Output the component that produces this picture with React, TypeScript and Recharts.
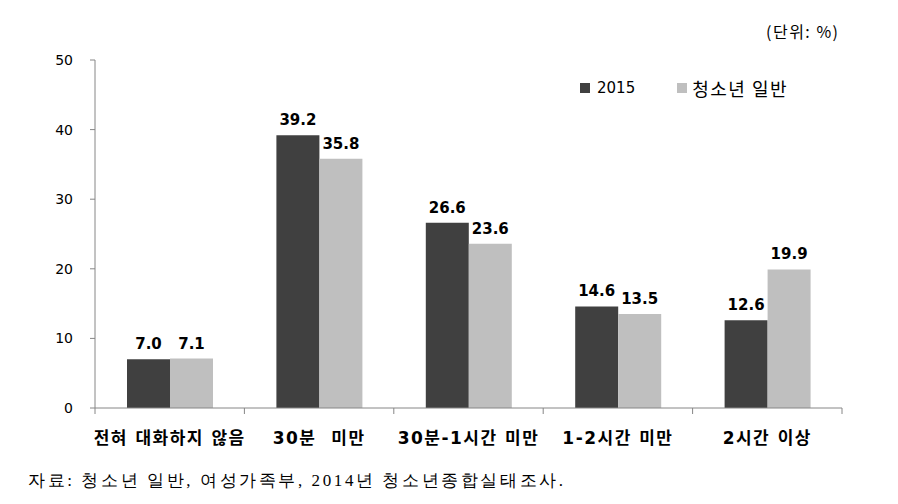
import { BarChart, Bar, XAxis, YAxis, LabelList } from 'recharts';

const categories = ['전혀 대화하지 않음', '30분  미만', '30분-1시간 미만', '1-2시간 미만', '2시간 이상'];
const values2015 = [7.0, 39.2, 26.6, 14.6, 12.6];
const valuesGeneral = [7.1, 35.8, 23.6, 13.5, 19.9];
const yTicks = [0, 10, 20, 30, 40, 50];
const seriesNames = ['2015', '청소년 일반'];

const data = categories.map((c, i) => ({ category: c, y2015: values2015[i], general: valuesGeneral[i] }));

const FONT = '"DejaVu Sans", "Noto Sans CJK KR", sans-serif';
const KFONT = '"Noto Sans CJK KR", sans-serif';
const AXIS = '#868686';
const DARK = '#404040';
const LIGHT = '#bfbfbf';
const PLOT_LEFT = 95;
const PLOT_RIGHT = 56;
const BAND = (898 - PLOT_LEFT - PLOT_RIGHT) / categories.length;

function CategoryTick(props: any) {
  const { x, y, payload, index } = props;
  const last = index === categories.length - 1;
  return (
    <g>
      <line x1={x - BAND / 2} x2={x - BAND / 2} y1={y} y2={y + 6} stroke={AXIS} />
      {last && <line x1={x + BAND / 2} x2={x + BAND / 2} y1={y} y2={y + 6} stroke={AXIS} />}
      <text x={x} y={y + 36} textAnchor="middle" fontFamily={FONT} fontWeight={700} fontSize={17} letterSpacing={1.5} fill="#000" style={{ whiteSpace: 'pre' }}>
        {payload.value}
      </text>
    </g>
  );
}

const labelStyle = { fontFamily: FONT, fontWeight: 700, fontSize: 15, fill: '#000' };

export default function App() {
  return (
    <div style={{ position: 'absolute', left: 0, top: 0, width: 898, height: 504, background: '#fff' }}>
      <div style={{ position: 'absolute', left: 766, top: 19, fontFamily: KFONT, fontSize: 16, letterSpacing: 1.5, color: '#000' }}>(단위: %)</div>
      <div style={{ position: 'absolute', left: 580, top: 75, display: 'flex', alignItems: 'center', color: '#000' }}>
        <span style={{ width: 10, height: 10, background: DARK, display: 'inline-block', marginRight: 7 }} />
        <span style={{ fontFamily: FONT, fontSize: 15, marginRight: 42 }}>{seriesNames[0]}</span>
        <span style={{ width: 10, height: 10, background: LIGHT, display: 'inline-block', marginRight: 5 }} />
        <span style={{ fontFamily: KFONT, fontSize: 18, letterSpacing: 1.5 }}>{seriesNames[1]}</span>
      </div>
      <BarChart
        width={898}
        height={504}
        data={data}
        margin={{ top: 60, right: PLOT_RIGHT, bottom: 46, left: 0 }}
        barGap={0}
        barSize={43}
      >
        <XAxis
          dataKey="category"
          stroke={AXIS}
          tickLine={false}
          tickSize={0}
          tickMargin={0}
          height={50}
          interval={0}
          tick={<CategoryTick />}
        />
        <YAxis
          domain={[0, 50]}
          ticks={yTicks}
          width={PLOT_LEFT}
          stroke={AXIS}
          tickSize={5}
          tickMargin={17}
          tick={{ fill: '#000', fontSize: 14, fontFamily: FONT }}
        />
        <Bar dataKey="y2015" name={seriesNames[0]} fill={DARK} isAnimationActive={false}>
          <LabelList dataKey="y2015" position="top" offset={10} formatter={(v: any) => Number(v).toFixed(1)} style={labelStyle} />
        </Bar>
        <Bar dataKey="general" name={seriesNames[1]} fill={LIGHT} isAnimationActive={false}>
          <LabelList dataKey="general" position="top" offset={10} formatter={(v: any) => Number(v).toFixed(1)} style={labelStyle} />
        </Bar>
      </BarChart>
      <div style={{ position: 'absolute', left: 28, top: 469, fontFamily: '"Liberation Serif", "DejaVu Serif", serif', fontSize: 17, letterSpacing: 2.6, color: '#000' }}>
        자료: 청소년 일반, 여성가족부, 2014년 청소년종합실태조사.
      </div>
    </div>
  );
}
